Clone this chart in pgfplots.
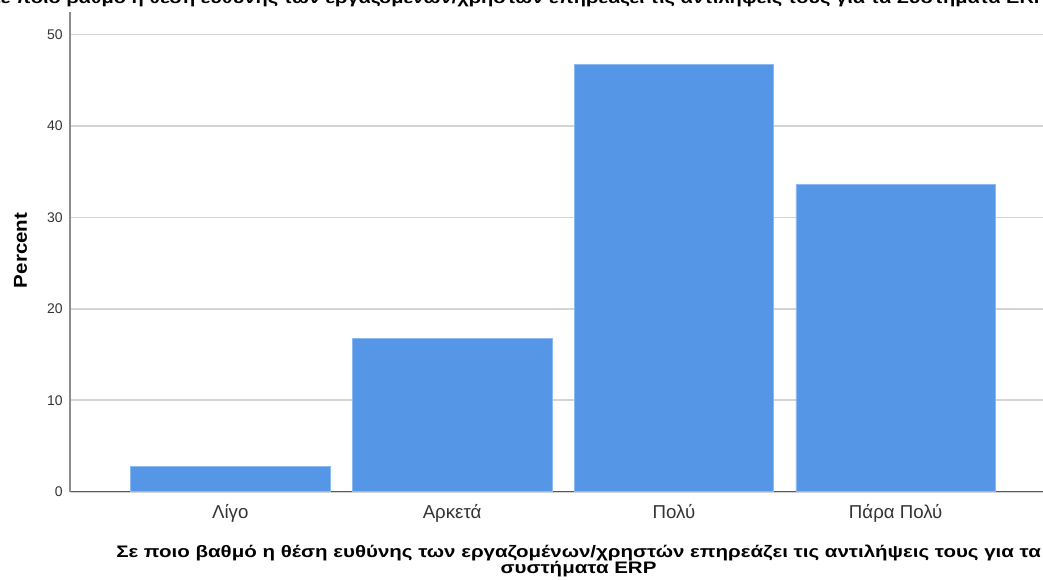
\documentclass[border=0pt]{standalone}
\usepackage{fontspec}
\setmainfont{Liberation Sans}
\newfontfamily\widefont[FakeStretch=1.23]{Liberation Sans}
\newfontfamily\pfont[FakeStretch=1.1]{Liberation Sans}
\usepackage{pgfplots}
\pgfplotsset{compat=1.18}
\definecolor{barblue}{RGB}{85,150,230}
\definecolor{baredge}{RGB}{140,185,240}
\definecolor{gridgray}{RGB}{212,212,212}
\begin{document}
\begin{tikzpicture}
\begin{axis}[
  at={(0,0)}, anchor=south west,
  scale only axis, width=729.75pt, height=360pt,
  xmin=0.2773, xmax=4.664, ymin=0, ymax=52.5,
  axis x line*=bottom, axis y line*=left,
  x axis line style={draw=black!65, line width=0.9pt},
  y axis line style={draw=black!45, line width=0.9pt},
  ytick={0,10,20,30,40,50},
  xtick={1,2,3,4},
  xticklabels={Λίγο,Αρκετά,Πολύ,Πάρα Πολύ},
  major tick length=0pt,
  ymajorgrids, major grid style={gridgray, line width=1.2pt},
  /pgf/number format/assume math mode=true,
  yticklabel style={font=\fontsize{10.5}{12}\selectfont, text=black!80, xshift=-2pt},
  xticklabel style={font=\fontsize{14}{16}\selectfont, text=black!80, anchor=base, inner sep=0pt, yshift=-19.8pt},
  ybar, bar width=0.9,
]
\addplot[fill=barblue, draw=baredge, line width=0.5pt] coordinates {(1,2.8) (2,16.8) (3,46.7) (4,33.6)};
\end{axis}
\node[anchor=base west, inner sep=0pt, font=\widefont\bfseries\fontsize{12.2}{14}\selectfont] at (-61pt,366.5pt) {Σε ποιο βαθμό η θέση ευθύνης των εργαζομένων/χρηστών επηρεάζει τις αντιλήψεις τους για τα Συστήματα ERP};
\node[anchor=base, inner sep=0pt, font=\widefont\bfseries\fontsize{12.5}{14}\selectfont] at (381.4pt,-49.5pt) {Σε ποιο βαθμό η θέση ευθύνης των εργαζομένων/χρηστών επηρεάζει τις αντιλήψεις τους για τα};
\node[anchor=base, inner sep=0pt, font=\widefont\bfseries\fontsize{12.5}{14}\selectfont] at (381.4pt,-61.3pt) {συστήματα ERP};
\node[rotate=90, inner sep=0pt, font=\pfont\bfseries\fontsize{14}{16}\selectfont] at (-37pt,181pt) {Percent};
\pgfresetboundingbox
\useasboundingbox (-52.5pt,-66.2pt) rectangle (729.75pt,368.8pt);
\end{tikzpicture}
\end{document}
